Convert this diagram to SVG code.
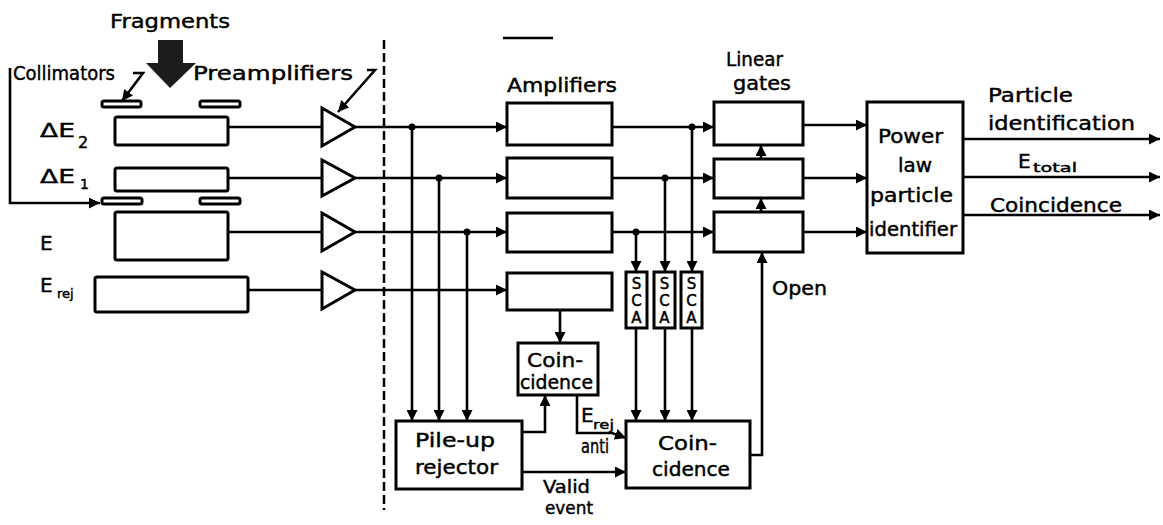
<svg xmlns="http://www.w3.org/2000/svg" width="1163" height="525" viewBox="0 0 1163 525">
<style>
.t{font-family:"DejaVu Sans","Liberation Sans",sans-serif;font-size:20px;fill:#000;stroke:#000;stroke-width:0.45}
.s{font-size:13px}
.box{fill:#fff;stroke:#000;stroke-width:3}
.ln{fill:none;stroke:#000;stroke-width:2.6}
.dot{fill:#000}
</style>
<defs>
<marker id="ah" markerUnits="userSpaceOnUse" markerWidth="12" markerHeight="11" refX="11" refY="5.5" orient="auto">
<path d="M0,0 L11,5.5 L0,11 Z" fill="#000"/>
</marker>
</defs>
<rect width="1163" height="525" fill="#fff"/>

<g id="labels-top">
<text class="t" x="110" y="28" textLength="120" lengthAdjust="spacingAndGlyphs">Fragments</text>
<polygon points="158,40 183,40 183,63 196,63 170,88 146,63 158,63" fill="#1c1c1c"/>
<text class="t" x="13" y="80" textLength="102" lengthAdjust="spacingAndGlyphs">Collimators</text>
<text class="t" x="193" y="80" textLength="160" lengthAdjust="spacingAndGlyphs">Preamplifiers</text>
<line x1="503" y1="38" x2="553" y2="38" stroke="#000" stroke-width="2.5"/>
</g>

<g id="collimators">
<rect x="102" y="101" width="39" height="6" rx="2" class="box" stroke-width="2"/>
<rect x="200" y="101" width="40" height="6" rx="2" class="box" stroke-width="2"/>
<rect x="102" y="198" width="40" height="6" rx="2" class="box" stroke-width="2"/>
<rect x="200" y="198" width="40" height="6" rx="2" class="box" stroke-width="2"/>
</g>

<g id="det-dE2">
<rect x="115" y="117" width="113" height="28" rx="2" class="box"/>
<text class="t" x="40" y="137" textLength="35" lengthAdjust="spacingAndGlyphs">ΔE</text>
<text class="t" x="78" y="148" style="font-size:16px">2</text>
</g>
<g id="det-dE1">
<rect x="115" y="168" width="113" height="23" rx="2" class="box"/>
<text class="t" x="40" y="183" textLength="35" lengthAdjust="spacingAndGlyphs">ΔE</text>
<text class="t" x="80" y="189" style="font-size:14px">1</text>
</g>
<g id="det-E">
<rect x="115" y="212" width="113" height="48" rx="2" class="box"/>
<text class="t" x="40" y="250">E</text>
</g>
<g id="det-Erej">
<rect x="95" y="277" width="153" height="35" rx="2" class="box"/>
<text class="t" x="40" y="292">E</text>
<text class="t s" x="57" y="298">rej</text>
</g>

<g id="preamps">
<polygon points="322,108 322,146 355,127" class="box"/>
<polygon points="322,160 322,196 355,178" class="box"/>
<polygon points="322,213 322,251 355,232" class="box"/>
<polygon points="322,272 322,309 355,290" class="box"/>
</g>

<g id="amplifiers">
<text class="t" x="507" y="92" textLength="110" lengthAdjust="spacingAndGlyphs">Amplifiers</text>
<rect x="507" y="103" width="105" height="42" class="box"/>
<rect x="507" y="158" width="105" height="40" class="box"/>
<rect x="507" y="213" width="105" height="39" class="box"/>
<rect x="507" y="273" width="105" height="37" class="box"/>
</g>

<g id="sca">
<rect x="626" y="272" width="21" height="56" class="box" stroke-width="2.5"/>
<rect x="654" y="272" width="21" height="56" class="box" stroke-width="2.5"/>
<rect x="681" y="272" width="21" height="56" class="box" stroke-width="2.5"/>
<g class="t" style="font-size:15px" text-anchor="middle">
<text x="636.5" y="289">S</text><text x="636.5" y="306">C</text><text x="636.5" y="323">A</text>
<text x="664.5" y="289">S</text><text x="664.5" y="306">C</text><text x="664.5" y="323">A</text>
<text x="691.5" y="289">S</text><text x="691.5" y="306">C</text><text x="691.5" y="323">A</text>
</g>
</g>

<g id="linear-gates">
<text class="t" x="726" y="66" textLength="57" lengthAdjust="spacingAndGlyphs">Linear</text>
<text class="t" x="733" y="90" textLength="58" lengthAdjust="spacingAndGlyphs">gates</text>
<rect x="714" y="102" width="89" height="43" class="box"/>
<rect x="714" y="159" width="89" height="39" class="box"/>
<rect x="714" y="212" width="89" height="40" class="box"/>
</g>

<g id="power-law">
<rect x="867" y="102" width="96" height="151" class="box"/>
<text class="t" x="878" y="143" textLength="65" lengthAdjust="spacingAndGlyphs">Power</text>
<text class="t" x="898" y="172" textLength="34" lengthAdjust="spacingAndGlyphs">law</text>
<text class="t" x="870" y="202" textLength="83" lengthAdjust="spacingAndGlyphs">particle</text>
<text class="t" x="869" y="236" textLength="88" lengthAdjust="spacingAndGlyphs">identifier</text>
</g>

<g id="outputs-labels">
<text class="t" x="988" y="102" textLength="85" lengthAdjust="spacingAndGlyphs">Particle</text>
<text class="t" x="988" y="130" textLength="147" lengthAdjust="spacingAndGlyphs">identification</text>
<text class="t" x="1018" y="168">E</text>
<text class="t s" x="1033" y="172" textLength="44" lengthAdjust="spacingAndGlyphs">total</text>
<text class="t" x="990" y="212" textLength="132" lengthAdjust="spacingAndGlyphs">Coincidence</text>
<text class="t" x="772" y="295" textLength="55" lengthAdjust="spacingAndGlyphs">Open</text>
</g>

<g id="coinc-small">
<rect x="518" y="343" width="80" height="52" class="box"/>
<text class="t" x="527" y="367" textLength="56" lengthAdjust="spacingAndGlyphs">Coin-</text>
<text class="t" x="520" y="389" textLength="73" lengthAdjust="spacingAndGlyphs">cidence</text>
</g>

<g id="pileup">
<rect x="396" y="421" width="126" height="68" class="box"/>
<text class="t" x="415" y="447" textLength="80" lengthAdjust="spacingAndGlyphs">Pile-up</text>
<text class="t" x="415" y="474" textLength="83" lengthAdjust="spacingAndGlyphs">rejector</text>
</g>

<g id="coinc-main">
<rect x="626" y="421" width="124" height="67" class="box"/>
<text class="t" x="658" y="450" textLength="59" lengthAdjust="spacingAndGlyphs">Coin-</text>
<text class="t" x="652" y="476" textLength="78" lengthAdjust="spacingAndGlyphs">cidence</text>
</g>

<g id="conn-labels">
<text class="t" x="581" y="422">E</text>
<text class="t s" x="593" y="429" textLength="21" lengthAdjust="spacingAndGlyphs">rej</text>
<text class="t" x="581" y="453" textLength="28" lengthAdjust="spacingAndGlyphs">anti</text>
<text class="t" x="543" y="493" style="font-size:18px" textLength="47" lengthAdjust="spacingAndGlyphs">Valid</text>
<text class="t" x="545" y="514" style="font-size:18px" textLength="48" lengthAdjust="spacingAndGlyphs">event</text>
</g>

<g id="connectors">
<line x1="384" y1="40" x2="384" y2="510" stroke="#000" stroke-width="2.5" stroke-dasharray="9 4"/>
<polyline class="ln" points="10,68 10,203 100,203" marker-end="url(#ah)"/>
<polyline class="ln" points="133,73 143,73 122,101" stroke-width="2" marker-end="url(#ah)"/>
<polyline class="ln" points="367,70 375,70 338,112" stroke-width="2" marker-end="url(#ah)"/>

<line class="ln" x1="228" y1="127" x2="322" y2="127"/>
<line class="ln" x1="228" y1="178" x2="322" y2="178"/>
<line class="ln" x1="228" y1="232" x2="322" y2="232"/>
<line class="ln" x1="248" y1="290" x2="322" y2="290"/>

<line class="ln" x1="355" y1="127" x2="507" y2="127" marker-end="url(#ah)"/>
<line class="ln" x1="355" y1="178" x2="507" y2="178" marker-end="url(#ah)"/>
<line class="ln" x1="355" y1="232" x2="507" y2="232" marker-end="url(#ah)"/>
<line class="ln" x1="355" y1="290" x2="507" y2="290" marker-end="url(#ah)"/>

<line class="ln" x1="412" y1="127" x2="412" y2="421" marker-end="url(#ah)"/>
<line class="ln" x1="439" y1="178" x2="439" y2="421" marker-end="url(#ah)"/>
<line class="ln" x1="467" y1="232" x2="467" y2="421" marker-end="url(#ah)"/>
<circle class="dot" cx="412" cy="127" r="3.5"/>
<circle class="dot" cx="439" cy="178" r="3.5"/>
<circle class="dot" cx="467" cy="232" r="3.5"/>

<line class="ln" x1="612" y1="127" x2="714" y2="127" marker-end="url(#ah)"/>
<line class="ln" x1="612" y1="178" x2="714" y2="178" marker-end="url(#ah)"/>
<line class="ln" x1="612" y1="232" x2="714" y2="232" marker-end="url(#ah)"/>
<line class="ln" x1="692" y1="127" x2="692" y2="272" marker-end="url(#ah)"/>
<line class="ln" x1="665" y1="178" x2="665" y2="272" marker-end="url(#ah)"/>
<line class="ln" x1="636" y1="232" x2="636" y2="272" marker-end="url(#ah)"/>
<circle class="dot" cx="692" cy="127" r="3.5"/>
<circle class="dot" cx="665" cy="178" r="3.5"/>
<circle class="dot" cx="636" cy="232" r="3.5"/>

<line class="ln" x1="636" y1="328" x2="636" y2="421" marker-end="url(#ah)"/>
<line class="ln" x1="665" y1="328" x2="665" y2="421" marker-end="url(#ah)"/>
<line class="ln" x1="692" y1="328" x2="692" y2="421" marker-end="url(#ah)"/>

<line class="ln" x1="761" y1="159" x2="761" y2="145" marker-end="url(#ah)"/>
<line class="ln" x1="761" y1="212" x2="761" y2="198" marker-end="url(#ah)"/>
<polyline class="ln" points="750,455 762,455 762,252" marker-end="url(#ah)"/>

<line class="ln" x1="803" y1="125" x2="867" y2="125" marker-end="url(#ah)"/>
<line class="ln" x1="803" y1="178" x2="867" y2="178" marker-end="url(#ah)"/>
<line class="ln" x1="803" y1="232" x2="867" y2="232" marker-end="url(#ah)"/>

<line class="ln" x1="963" y1="139" x2="1160" y2="139" marker-end="url(#ah)"/>
<line class="ln" x1="963" y1="177" x2="1160" y2="177" marker-end="url(#ah)"/>
<line class="ln" x1="963" y1="215" x2="1160" y2="215" marker-end="url(#ah)"/>

<line class="ln" x1="560" y1="310" x2="560" y2="343" marker-end="url(#ah)"/>
<polyline class="ln" points="522,432 545,432 545,395" marker-end="url(#ah)"/>
<line class="ln" x1="522" y1="472" x2="626" y2="472" marker-end="url(#ah)"/>
<polyline class="ln" points="577,395 577,433 612,433 626,438" marker-end="url(#ah)"/>
</g>
</svg>
